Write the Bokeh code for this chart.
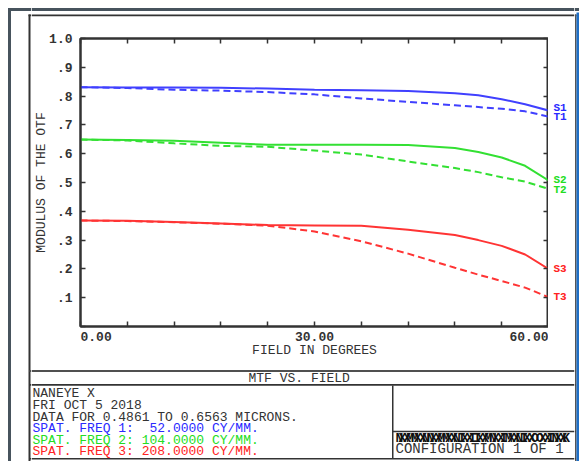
from bokeh.plotting import figure
from bokeh.layouts import row, column
from bokeh.models import Range1d, FixedTicker, LinearAxis, Label, CustomJSTickFormatter
from bokeh.embed import file_html
from bokeh.resources import INLINE

# ---------------- data ----------------
field = [0, 6, 12, 18, 24, 30, 36, 42, 48, 51, 54, 57, 60]
s1 = [0.831, 0.830, 0.830, 0.829, 0.826, 0.822, 0.820, 0.818, 0.810, 0.803, 0.789, 0.772, 0.750]
t1 = [0.831, 0.828, 0.822, 0.819, 0.814, 0.806, 0.792, 0.780, 0.768, 0.762, 0.756, 0.747, 0.729]
s2 = [0.649, 0.648, 0.645, 0.638, 0.631, 0.631, 0.631, 0.630, 0.620, 0.606, 0.587, 0.558, 0.507]
t2 = [0.649, 0.646, 0.636, 0.627, 0.624, 0.611, 0.597, 0.573, 0.550, 0.536, 0.518, 0.503, 0.478]
s3 = [0.368, 0.367, 0.363, 0.358, 0.352, 0.351, 0.350, 0.336, 0.318, 0.300, 0.280, 0.250, 0.200]
t3 = [0.368, 0.366, 0.362, 0.357, 0.350, 0.330, 0.296, 0.253, 0.204, 0.180, 0.158, 0.135, 0.102]

x_ticks = [0, 6, 12, 18, 24, 30, 36, 42, 48, 54, 60]
x_tick_labels = ["\u00a0\u00a0\u00a0\u00a00.00", "", "", "", "", "30.00", "", "", "", "", "60.00"]
y_ticks = [0, 0.1, 0.2, 0.3, 0.4, 0.5, 0.6, 0.7, 0.8, 0.9, 1.0]
y_tick_labels = ["", ".1", ".2", ".3", ".4", ".5", ".6", ".7", ".8", ".9", "1.0"]

series_names = ["S1", "T1", "S2", "T2", "S3", "T3"]
spat_freqs = [52.0, 104.0, 208.0]
wl_min, wl_max = 0.4861, 0.6563
header_lines = ["NANEYE X", "FRI OCT 5 2018"]
title_text = "MTF VS. FIELD"
config_text = "CONFIGURATION 1 OF 1"

BLUE, GREEN, RED = "#4040ff", "#33e033", "#ff3434"
TBLUE, TGREEN, TRED = "#2a2aff", "#22dd22", "#ff2222"
INK = "#333333"
SLATE = "#47535d"
EDGE_BLUE = "#1f6fc6"
FONT = "Liberation Mono"

PAGE_W, PAGE_H = 579, 461


def deco_fig(x0, x1, y0, y1):
    """A figure whose frame fills it, mapping page pixels one to one."""
    f = figure(width=x1 - x0, height=y1 - y0, x_range=Range1d(x0, x1), y_range=Range1d(y1, y0),
               x_axis_type=None, y_axis_type=None, output_backend="svg",
               toolbar_location=None, tools="",
               min_border_left=0, min_border_right=0, min_border_top=0, min_border_bottom=0)
    f.outline_line_color = None
    f.background_fill_color = "white"
    f.border_fill_color = "white"
    return f


def bar(f, x0, x1, y0, y1, color):
    f.quad(left=[x0], right=[x1], top=[y0], bottom=[y1], fill_color=color, line_color=None)


def txt(f, px, py, s, color=INK, size="13px", bold=False):
    f.add_layout(Label(x=px, y=py, text=s, text_font=FONT, text_font_size=size,
                       text_font_style="bold" if bold else "normal", text_color=color,
                       text_baseline="middle", text_align="left"))


# ---------------- left and right page edges ----------------
left_col = deco_fig(0, 31, 0, PAGE_H)
bar(left_col, 7.5, 10.5, 7.5, PAGE_H, SLATE)
bar(left_col, 7.5, 31, 7.5, 10.5, SLATE)
bar(left_col, 28, 31, 14, 15.8, INK)
bar(left_col, 28, 30, 14, PAGE_H, INK)
bar(left_col, 29, 31, 369.5, 371.5, "#505050")
bar(left_col, 29, 31, 383.5, 385.3, INK)
bar(left_col, 29, 31, 457.5, 459, INK)

right_col = deco_fig(574, PAGE_W, 0, PAGE_H)
bar(right_col, 574, PAGE_W, 7.5, 10.5, SLATE)
bar(right_col, 574, 576, 14, 15.8, INK)
bar(right_col, 574.5, 576, 14, PAGE_H, "#555555")
bar(right_col, 576, PAGE_W, 12, PAGE_H, EDGE_BLUE)
bar(right_col, 574, 575, 369.5, 371.5, "#505050")
bar(right_col, 574, 575, 383.5, 385.3, INK)
bar(right_col, 574, 575, 430.3, 431.8, INK)
bar(right_col, 574, 575, 457.5, 459, INK)

# ---------------- top strip ----------------
top_strip = deco_fig(31, 574, 0, 17)
bar(top_strip, 31, 574, 7.5, 10.5, SLATE)
bar(top_strip, 31, 574, 14, 15.8, INK)

# ---------------- main plot ----------------
p = figure(width=517, height=351, x_range=Range1d(0, 60), y_range=Range1d(0, 1),
           min_border_left=49, min_border_right=0, min_border_top=21, min_border_bottom=42,
           output_backend="svg", toolbar_location=None, tools="")
p.grid.visible = False
p.background_fill_color = "white"
p.border_fill_color = "white"
p.outline_line_color = INK
p.outline_line_width = 2

fmt_code = """
const i = vals.findIndex(v => Math.abs(v - tick) < 1e-6);
return i >= 0 ? labs[i] : '';
"""


def style_axis(ax, ticks, labels, show):
    ax.ticker = FixedTicker(ticks=ticks)
    ax.formatter = CustomJSTickFormatter(args=dict(vals=ticks, labs=labels), code=fmt_code)
    ax.major_tick_in = 5
    ax.major_tick_out = 0
    ax.minor_tick_line_color = None
    ax.axis_line_color = INK
    ax.axis_line_width = 2
    ax.major_tick_line_color = INK
    ax.major_tick_line_width = 1.5
    ax.major_label_text_font = FONT
    ax.major_label_text_font_style = "bold"
    ax.major_label_text_color = INK
    ax.major_label_text_font_size = "13px" if show else "0px"
    if not show:
        ax.major_label_standoff = 0
    ax.axis_label_text_font = FONT
    ax.axis_label_text_font_style = "normal"
    ax.axis_label_text_font_size = "13px"
    ax.axis_label_text_color = INK


style_axis(p.xaxis[0], x_ticks, x_tick_labels, True)
p.xaxis[0].axis_label = "FIELD IN DEGREES"
p.xaxis[0].major_label_standoff = 3
p.xaxis[0].axis_label_standoff = -5
style_axis(p.yaxis[0], y_ticks, y_tick_labels, True)
p.yaxis[0].axis_label = "MODULUS OF THE OTF"
p.yaxis[0].major_label_standoff = 8
p.yaxis[0].axis_label_standoff = -3
p.yaxis[0].major_label_orientation = "horizontal"

top_ax = LinearAxis()
style_axis(top_ax, x_ticks, ["" for _ in x_ticks], False)
p.add_layout(top_ax, "above")
right_ax = LinearAxis()
style_axis(right_ax, y_ticks, ["" for _ in y_ticks], False)
p.add_layout(right_ax, "right")

# label strip to the right of the plot, sharing the y scale
lab = figure(width=26, height=351, x_range=Range1d(0, 26), y_range=p.y_range,
             x_axis_type=None, y_axis_type=None, output_backend="svg",
             toolbar_location=None, tools="",
             min_border_left=0, min_border_right=0, min_border_top=21, min_border_bottom=42)
lab.outline_line_color = None
lab.background_fill_color = "white"
lab.border_fill_color = "white"

curves = [(s1, BLUE, TBLUE, None), (t1, BLUE, TBLUE, "7 4"),
          (s2, GREEN, TGREEN, None), (t2, GREEN, TGREEN, "7 4"),
          (s3, RED, TRED, None), (t3, RED, TRED, "7 4")]
label_dy = [3, 0, 0, -1, 0, 0]
for (vals, col, tcol, dash), name, ody in zip(curves, series_names, label_dy):
    if dash:
        p.line(field, vals, line_color=col, line_width=2, line_dash=dash)
    else:
        p.line(field, vals, line_color=col, line_width=2)
    lab.add_layout(Label(x=0, y=vals[-1], x_offset=5, y_offset=ody, text=name,
                         text_font=FONT, text_font_size="11px", text_font_style="bold",
                         text_color=tcol, text_baseline="middle", text_align="left"))

# ---------------- footer ----------------
foot = deco_fig(31, 574, 368, PAGE_H)
bar(foot, 31, 574, 369.5, 371.5, "#505050")
bar(foot, 31, 574, 383.5, 385.3, INK)
bar(foot, 391.5, 393, 385, 458, INK)
bar(foot, 392, 574, 430.3, 431.8, INK)
bar(foot, 31, 574, 457.5, 459, INK)

txt(foot, 248, 378, title_text)
footer = list(header_lines)
footer.append(f"DATA FOR {wl_min:.4f} TO {wl_max:.4f} MICRONS.")
colors = [INK, INK, INK, TBLUE, TGREEN, TRED]
for i, fr in enumerate(spat_freqs):
    footer.append(f"SPAT. FREQ {i + 1}: {fr:8.4f} CY/MM.".replace("  ", " \u00a0"))
ys = [393, 404.5, 416.5, 428, 439.5, 451]
for s, c, yy in zip(footer, colors, ys):
    txt(foot, 32, yy, s, color=c)

txt(foot, 395, 437.5, "NXMXNXMXIXIXNXMXIXOXNX", color="#111111", bold=True)
txt(foot, 398, 437.5, "XMXNXMXNXIXMXIXNXOXIXK", color="#111111", bold=True)
txt(foot, 395, 448, config_text, size="14px")

layout = row(left_col, column(top_strip, row(p, lab), foot), right_col)
open("out.html", "w").write(file_html(layout, INLINE))
